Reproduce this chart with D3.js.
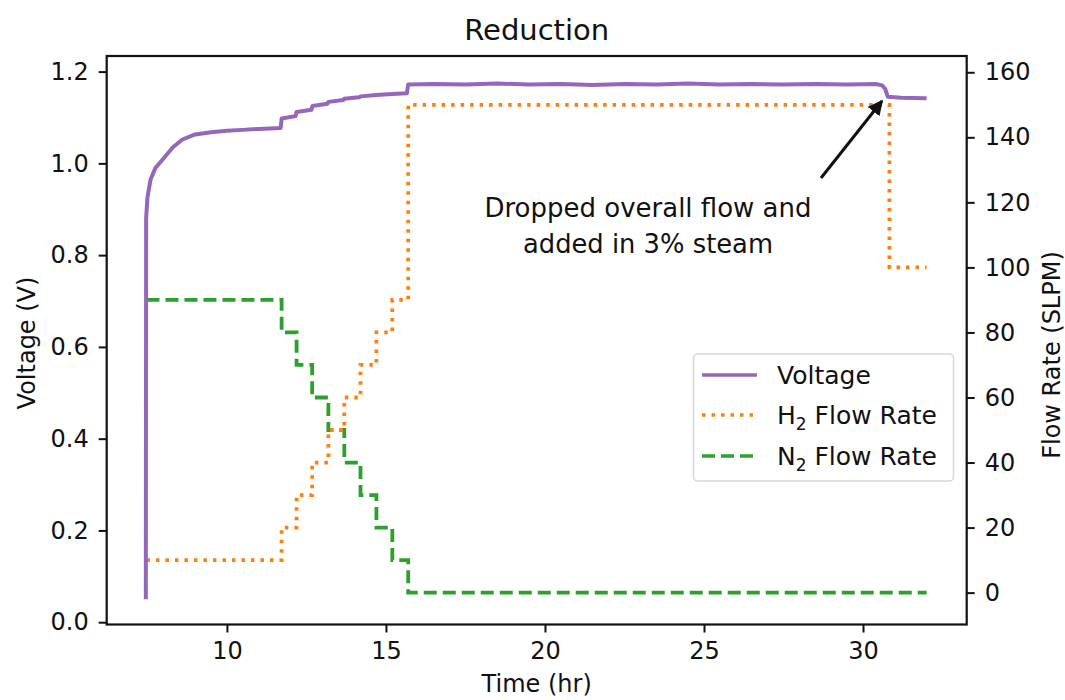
<!DOCTYPE html>
<html>
<head>
<meta charset="utf-8">
<script src="https://cdn.jsdelivr.net/npm/d3@7"></script>
<style>
  body { margin: 0; background: #fff; }
  svg text { font-family: "DejaVu Sans", sans-serif; fill: #111; }
</style>
</head>
<body>
<div id="chart"></div>
<script>
// voltage trace (hr, V)
var vTime = [7.45, 7.46, 7.5, 7.6, 7.75, 8.0, 8.3, 8.6, 9.0, 9.5, 10.0, 10.5, 11.0, 11.69,
             11.72, 12.16, 12.19, 12.66, 12.69, 13.16, 13.19, 13.66, 13.69, 14.16, 14.2, 14.7, 15.2, 15.66,
             15.7, 16.5, 17.5, 18.5, 19.5, 20.5, 21.5, 22.5, 23.5, 24.5, 25.5, 26.5, 27.5, 28.5, 29.5,
             30.4, 30.6, 30.7, 30.78, 31.2, 32.0];
var vVal = [0.05, 0.88, 0.925, 0.965, 0.99, 1.01, 1.035, 1.052, 1.063, 1.068, 1.071, 1.073, 1.075, 1.077,
            1.098, 1.103, 1.112, 1.117, 1.125, 1.130, 1.134, 1.138, 1.141, 1.144, 1.146, 1.149, 1.151, 1.153,
            1.172, 1.173, 1.172, 1.174, 1.172, 1.173, 1.171, 1.173, 1.172, 1.174, 1.172, 1.173, 1.172, 1.173, 1.172,
            1.173, 1.170, 1.162, 1.145, 1.143, 1.142];

// flow steps (hr, SLPM)
var flowTime = [7.47, 11.72, 12.19, 12.68, 13.19, 13.69, 14.2, 14.7, 15.2, 15.7, 30.83, 32.0];
var h2Flow = [10, 20, 30, 40, 50, 60, 70, 80, 90, 150, 100, 100];
var n2Flow = [90, 80, 70, 60, 50, 40, 30, 20, 10, 0, 0, 0];

var xTicks = [10, 15, 20, 25, 30];
var vTicks = [0.0, 0.2, 0.4, 0.6, 0.8, 1.0, 1.2];
var fTicks = [0, 20, 40, 60, 80, 100, 120, 140, 160];

var W = 1065, H = 700,
    pLeft = 106.7, pRight = 966.7, pTop = 56, pBottom = 624.5;

var svg = d3.select('#chart').append('svg')
    .attr('width', W).attr('height', H);

var x = d3.scaleLinear().domain([6.22, 33.26]).range([pLeft, pRight]);
var yV = d3.scaleLinear().domain([-0.005, 1.234]).range([pBottom, pTop]);
var yF = d3.scaleLinear().domain([-9.8, 165]).range([pBottom, pTop]);

var purple = '#9467bd', orange = '#ff7f0e', green = '#2ca02c';

// lines
var vLine = d3.line()
    .x(function(d){ return x(d[0]); })
    .y(function(d){ return yV(d[1]); });
var stepLine = d3.line()
    .curve(d3.curveStepAfter)
    .x(function(d){ return x(d[0]); })
    .y(function(d){ return yF(d[1]); });

svg.append('path')
    .datum(flowTime.map(function(t, i){ return [t, n2Flow[i]]; }))
    .attr('d', stepLine)
    .attr('fill', 'none').attr('stroke', green)
    .attr('stroke-width', 3.8).attr('stroke-dasharray', '13,6');

svg.append('path')
    .datum(flowTime.map(function(t, i){ return [t, h2Flow[i]]; }))
    .attr('d', stepLine)
    .attr('fill', 'none').attr('stroke', orange)
    .attr('stroke-width', 3.8).attr('stroke-dasharray', '3.5,6');

svg.append('path')
    .datum(vTime.map(function(t, i){ return [t, vVal[i]]; }))
    .attr('d', vLine)
    .attr('fill', 'none').attr('stroke', purple)
    .attr('stroke-width', 4).attr('stroke-linejoin', 'round');

// axes
var fs = 24;
var gx = svg.append('g').attr('transform', 'translate(0,' + pBottom + ')')
    .call(d3.axisBottom(x).tickValues(xTicks).tickSize(8).tickPadding(9).tickFormat(d3.format('d')));
var gl = svg.append('g').attr('transform', 'translate(' + pLeft + ',0)')
    .call(d3.axisLeft(yV).tickValues(vTicks).tickSize(8).tickPadding(10).tickFormat(d3.format('.1f')));
var gr = svg.append('g').attr('transform', 'translate(' + pRight + ',0)')
    .call(d3.axisRight(yF).tickValues(fTicks).tickSize(8).tickPadding(10).tickFormat(d3.format('d')));

[gx, gl, gr].forEach(function(g){
    g.select('.domain').remove();
    g.selectAll('.tick line').attr('stroke', '#111').attr('stroke-width', 2);
    g.selectAll('.tick text').attr('font-size', fs).attr('font-family', '"DejaVu Sans", sans-serif').attr('fill', '#111');
});

// frame
svg.append('rect')
    .attr('x', pLeft).attr('y', pTop)
    .attr('width', pRight - pLeft).attr('height', pBottom - pTop)
    .attr('fill', 'none').attr('stroke', '#111').attr('stroke-width', 2.2);

// labels
svg.append('text').attr('x', (pLeft + pRight) / 2).attr('y', 40)
    .attr('text-anchor', 'middle').attr('font-size', 29).text('Reduction');
svg.append('text').attr('x', (pLeft + pRight) / 2).attr('y', 692)
    .attr('text-anchor', 'middle').attr('font-size', fs).text('Time (hr)');
svg.append('text').attr('transform', 'translate(35,343) rotate(-90)')
    .attr('text-anchor', 'middle').attr('font-size', fs).text('Voltage (V)');
svg.append('text').attr('transform', 'translate(1060,355) rotate(-90)')
    .attr('text-anchor', 'middle').attr('font-size', fs).text('Flow Rate (SLPM)');

// legend
var lg = svg.append('g');
lg.append('rect').attr('x', 693.5).attr('y', 354).attr('width', 260).attr('height', 127)
    .attr('rx', 4).attr('fill', '#fff').attr('fill-opacity', 0.8)
    .attr('stroke', '#d6d6d6').attr('stroke-width', 1.5);
var items = [
    { label: 'Voltage', sub: null, color: purple, dash: null },
    { label: 'H', sub: '2', rest: ' Flow Rate', color: orange, dash: '3.5,6' },
    { label: 'N', sub: '2', rest: ' Flow Rate', color: green, dash: '13,6' }
];
var rowY = [375, 415, 456];
items.forEach(function(it, i){
    lg.append('line').attr('x1', 702).attr('x2', 757).attr('y1', rowY[i]).attr('y2', rowY[i])
        .attr('stroke', it.color).attr('stroke-width', 3.5)
        .attr('stroke-dasharray', it.dash);
    var t = lg.append('text').attr('x', 777).attr('y', rowY[i] + 9).attr('font-size', 25);
    t.append('tspan').text(it.label);
    if (it.sub) {
        t.append('tspan').attr('font-size', 17).attr('dy', 6).text(it.sub);
        t.append('tspan').attr('dy', -6).text(it.rest);
    }
});

// annotation
var ann = svg.append('g');
ann.append('text').attr('x', 648).attr('y', 217).attr('text-anchor', 'middle')
    .attr('font-family', 'Lato, sans-serif').attr('font-size', 26)
    .attr('textLength', 327).attr('lengthAdjust', 'spacingAndGlyphs')
    .text('Dropped overall flow and');
ann.append('text').attr('x', 648).attr('y', 253).attr('text-anchor', 'middle')
    .attr('font-family', 'Lato, sans-serif').attr('font-size', 26)
    .attr('textLength', 250).attr('lengthAdjust', 'spacingAndGlyphs')
    .text('added in 3% steam');

svg.append('defs').append('marker')
    .attr('id', 'arrow').attr('viewBox', '0 0 10 10')
    .attr('refX', 9).attr('refY', 5)
    .attr('markerWidth', 5).attr('markerHeight', 5)
    .attr('markerUnits', 'strokeWidth')
    .attr('orient', 'auto')
    .append('path').attr('d', 'M0,0 L10,5 L0,10 z').attr('fill', '#111');
ann.append('line')
    .attr('x1', 821).attr('y1', 178)
    .attr('x2', 882).attr('y2', 101)
    .attr('stroke', '#111').attr('stroke-width', 3)
    .attr('marker-end', 'url(#arrow)');
</script>
</body>
</html>
